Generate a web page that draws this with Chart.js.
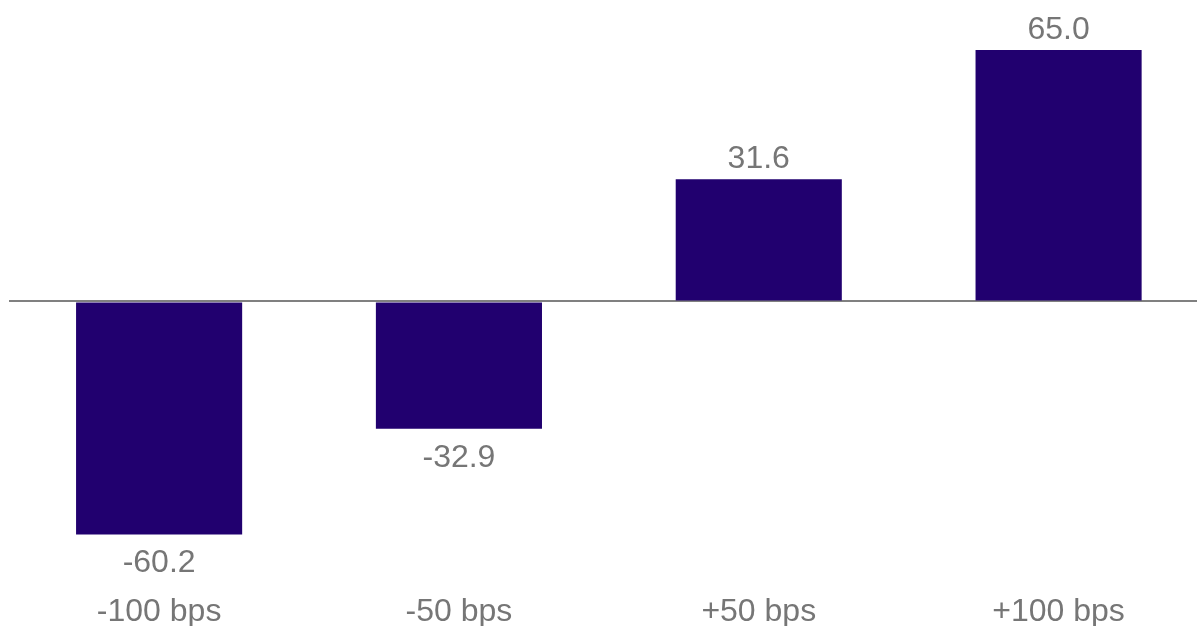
<!DOCTYPE html>
<html>
<head>
<meta charset="utf-8">
<script src="https://cdn.jsdelivr.net/npm/chart.js@4/dist/chart.umd.min.js"></script>
<style>
  html, body { margin: 0; padding: 0; overflow: hidden; background: #fff; }
  #wrap { width: 1197px; height: 626px; overflow: hidden; }
</style>
</head>
<body>
<div id="wrap"><canvas id="myChart" width="1210" height="626"></canvas></div>
<script>
var categories = ['-100 bps', '-50 bps', '+50 bps', '+100 bps'];
var values = [-60.2, -32.9, 31.6, 65.0];
var yMin = -70;
var yMax = 75;

var barColor = '#21006f';
var textColor = '#767676';
var fontFamily = '"Liberation Sans", Arial, sans-serif';

// value labels above / below each bar
var valueLabels = {
    id: 'valueLabels',
    afterDatasetsDraw: function(chart) {
        var ctx = chart.ctx;
        var meta = chart.getDatasetMeta(0);
        ctx.save();
        ctx.font = '32px ' + fontFamily;
        ctx.fillStyle = textColor;
        ctx.textAlign = 'center';
        ctx.textBaseline = 'alphabetic';
        meta.data.forEach(function(bar, i) {
            var v = values[i];
            var y = v >= 0 ? bar.y - 11 : bar.y + 38;
            ctx.fillText(v.toFixed(1), bar.x, y);
        });
        ctx.restore();
    }
};

const ctx = document.getElementById('myChart');
new Chart(ctx, {
    type: 'bar',
    data: {
        labels: categories,
        datasets: [{
            data: values,
            backgroundColor: barColor,
            borderWidth: 0,
            categoryPercentage: 1,
            barPercentage: 0.554
        }]
    },
    options: {
        responsive: false,
        animation: false,
        layout: {
            padding: { top: 11.2, left: 9.2, right: 1.5, bottom: 0 }
        },
        plugins: {
            legend: { display: false },
            tooltip: { enabled: false }
        },
        scales: {
            x: {
                grid: { display: false, drawTicks: false },
                border: { display: false },
                afterFit: function(scale) {
                    scale.height = 53.6; // keep the axis box tight
                },
                ticks: {
                    color: textColor,
                    padding: 23.6,
                    font: { size: 32, family: fontFamily, lineHeight: 1 }
                }
            },
            y: {
                min: yMin,
                max: yMax,
                border: { display: false },
                ticks: { display: false, stepSize: 5 },
                grid: {
                    drawTicks: false,
                    lineWidth: 2,
                    color: function(c) {
                        return c.tick && c.tick.value === 0 ? '#808080' : 'rgba(0,0,0,0)';
                    }
                }
            }
        }
    },
    plugins: [valueLabels]
});
</script>
</body>
</html>
